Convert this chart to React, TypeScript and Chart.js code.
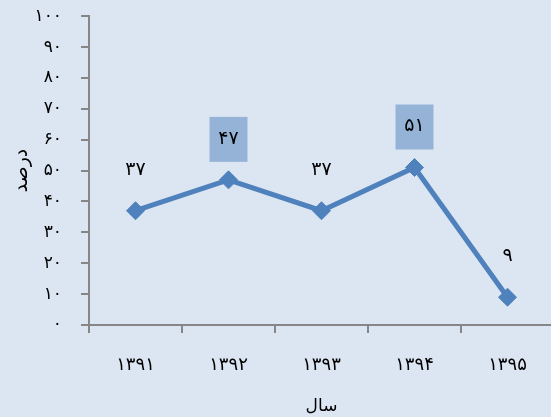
import React, { useEffect, useRef } from "react";
import { Chart, registerables } from "chart.js";
Chart.register(...registerables);

const categories = ["۱۳۹۱", "۱۳۹۲", "۱۳۹۳", "۱۳۹۴", "۱۳۹۵"];
const values = [37, 47, 37, 51, 9];
const valueLabels = ["۳۷", "۴۷", "۳۷", "۵۱", "۹"];
const highlighted = [false, true, false, true, false];
const yTickLabels = ["۰", "۱۰", "۲۰", "۳۰", "۴۰", "۵۰", "۶۰", "۷۰", "۸۰", "۹۰", "۱۰۰"];
const xTitle = "سال";
const yTitle = "درصد";

const BG = "#dce6f2";
const LINE = "#4f81bd";
const BOX = "#95b3d7";
const AXIS = "#868686";
const FONT = "'DejaVu Sans', sans-serif";

export default function App() {
  const ref = useRef<HTMLCanvasElement>(null);
  useEffect(() => {
    const bgPlugin = {
      id: "bg",
      beforeDraw(chart: any) {
        const c = chart.ctx;
        c.save();
        c.fillStyle = BG;
        c.fillRect(0, 0, chart.width, chart.height);
        c.restore();
      },
    };
    const labelPlugin = {
      id: "vlabels",
      afterDatasetsDraw(chart: any) {
        const c = chart.ctx;
        const meta = chart.getDatasetMeta(0);
        c.save();
        c.font = "19px " + FONT;
        c.textAlign = "center";
        c.textBaseline = "middle";
        meta.data.forEach((pt: any, i: number) => {
          const x = pt.x;
          const y = pt.y - 41;
          if (highlighted[i]) {
            c.fillStyle = BOX;
            c.fillRect(x - 19, y - 22, 38, 45);
          }
          c.fillStyle = "#000";
          c.fillText(valueLabels[i], x, y);
        });
        c.restore();
      },
    };
    const chart = new Chart(ref.current!, {
      type: "line",
      data: {
        labels: categories,
        datasets: [
          {
            data: values,
            borderColor: LINE,
            backgroundColor: LINE,
            borderWidth: 5,
            pointStyle: "rectRot",
            pointRadius: 9,
            pointBackgroundColor: LINE,
            pointBorderColor: LINE,
            pointBorderWidth: 1,
            tension: 0,
          },
        ],
      },
      options: {
        responsive: false,
        animation: false,
        events: [],
        layout: { padding: { top: 0, right: 16, left: 0, bottom: 0 } },
        plugins: { legend: { display: false }, tooltip: { enabled: false } },
        scales: {
          x: {
            offset: true,
            grid: {
              offset: true,
              drawOnChartArea: false,
              drawTicks: true,
              tickLength: 8,
              color: AXIS,
              lineWidth: 2,
            },
            border: { color: AXIS, width: 2 },
            ticks: { color: "#000", font: { family: FONT, size: 18 }, padding: 22 },
            title: {
              display: true,
              text: xTitle,
              color: "#000",
              font: { family: FONT, size: 17 },
              padding: { top: 13, bottom: 0 },
            },
            afterFit: (axis: any) => {
              axis.height = 92;
            },
          },
          y: {
            min: 0,
            max: 100,
            grid: {
              drawOnChartArea: false,
              drawTicks: true,
              tickLength: 8,
              color: AXIS,
              lineWidth: 2,
            },
            border: { color: AXIS, width: 2 },
            ticks: {
              stepSize: 10,
              color: "#000",
              font: { family: FONT, size: 17 },
              padding: 19,
              callback: (v: any) => yTickLabels[Math.round(Number(v) / 10)],
            },
            title: {
              display: true,
              text: yTitle,
              color: "#000",
              font: { family: FONT, size: 19 },
              padding: { top: 11, bottom: 0 },
            },
            afterFit: (axis: any) => {
              axis.width = 89;
            },
          },
        },
      },
      plugins: [bgPlugin, labelPlugin],
    });
    return () => chart.destroy();
  }, []);
  return (
    <div
      style={{
        position: "fixed",
        left: 0,
        top: 0,
        width: 551,
        height: 417,
        overflow: "hidden",
        background: BG,
      }}
    >
      <canvas
        ref={ref}
        width={570}
        height={430}
        style={{ display: "block", position: "absolute", left: 0, top: -13 }}
      />
    </div>
  );
}
